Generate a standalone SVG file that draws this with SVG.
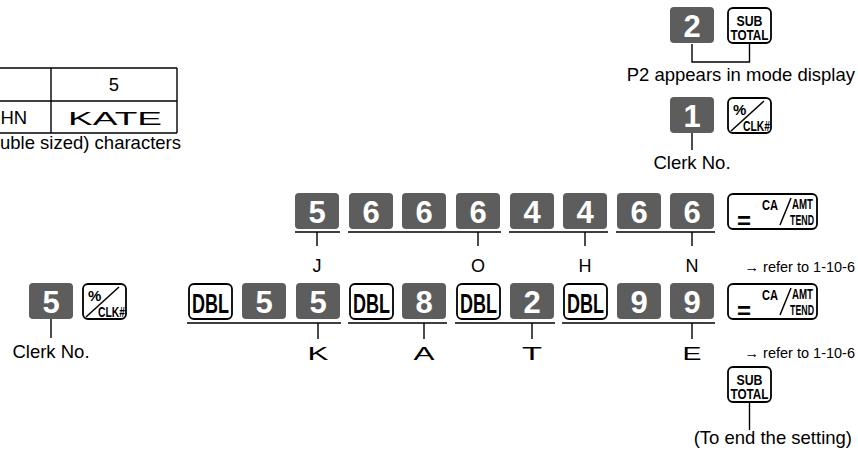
<svg xmlns="http://www.w3.org/2000/svg" xmlns:xlink="http://www.w3.org/1999/xlink" width="858" height="457" viewBox="0 0 858 457">
<style>
.dk{fill:#5d5d5d}
.wk{fill:#fff;stroke:#000;stroke-width:1.8}
.dg{font-family:"Liberation Sans",Arial,sans-serif;font-weight:bold;font-size:31px;fill:#fff;text-anchor:middle}
.kt{font-family:"Liberation Sans",Arial,sans-serif;font-weight:bold;fill:#000}
.lb{font-family:"Liberation Sans",Arial,sans-serif;font-size:18.5px;fill:#000}
.sm{font-family:"Liberation Sans",Arial,sans-serif;font-size:14.5px;fill:#000;text-anchor:end}
.ch{font-family:"Liberation Sans",Arial,sans-serif;font-size:18px;fill:#000;text-anchor:middle}
.wd{font-family:"Liberation Sans",Arial,sans-serif;font-size:19px;fill:#000;text-anchor:middle}
.ln{stroke:#000;stroke-width:1.4;fill:none}
.sl{stroke:#000;stroke-width:1.5;fill:none}
</style>
<defs>
<rect id="dkey" class="dk" width="44" height="36" rx="4"/>
<rect id="wkey" class="wk" width="43" height="35" rx="5"/>
<rect id="cakey" class="wk" width="89" height="35" rx="5"/>
<g id="dblkey"><use xlink:href="#wkey"/><text class="kt" x="21.5" y="28.5" font-size="27" text-anchor="middle" textLength="37" lengthAdjust="spacingAndGlyphs">DBL</text></g>
<g id="clkkey"><use xlink:href="#wkey"/><text class="kt" x="5" y="17" font-size="15">%</text><line class="sl" x1="3" y1="33" x2="36" y2="3"/><text class="kt" x="15" y="32.5" font-size="15.5" textLength="27" lengthAdjust="spacingAndGlyphs">CLK#</text></g>
<g id="subkey"><use xlink:href="#wkey"/><text class="kt" x="21.5" y="17.5" font-size="15.5" text-anchor="middle" textLength="26" lengthAdjust="spacingAndGlyphs">SUB</text><text class="kt" x="21.5" y="31.5" font-size="15.5" text-anchor="middle" textLength="38" lengthAdjust="spacingAndGlyphs">TOTAL</text></g>
<g id="cagroup"><use xlink:href="#cakey"/><text class="kt" x="9" y="35" font-size="24">=</text><text class="kt" x="34" y="16" font-size="14.5" textLength="16" lengthAdjust="spacingAndGlyphs">CA</text><line class="sl" x1="52" y1="31" x2="63" y2="4"/><text class="kt" x="64" y="15" font-size="14.5" textLength="21" lengthAdjust="spacingAndGlyphs">AMT</text><text class="kt" x="62" y="31" font-size="14.5" textLength="24" lengthAdjust="spacingAndGlyphs">TEND</text></g>
</defs>

<g id="table">
<line class="ln" x1="0" y1="68" x2="177" y2="68"/>
<line class="ln" x1="0" y1="101" x2="177" y2="101"/>
<line class="ln" x1="0" y1="133" x2="177" y2="133"/>
<line class="ln" x1="51" y1="68" x2="51" y2="133"/>
<line class="ln" x1="177" y1="68" x2="177" y2="133"/>
<text class="lb" x="114" y="91" font-size="18" text-anchor="middle">5</text>
<text class="lb" x="0.5" y="124" font-size="15.5">HN</text>
<text class="wd" x="115" y="125" textLength="94" lengthAdjust="spacingAndGlyphs">KATE</text>
<text class="lb" x="0" y="149" font-size="18">uble sized) characters</text>
</g>

<g id="connectors">
<path class="ln" d="M692 44V62H749.5V43"/>
<path class="ln" d="M692 133V150"/>
<path class="ln" d="M295 232H340M348 232H501M509 232H608M616 232H715"/>
<path class="ln" d="M317 232V246M478 232V246M585 232V246M692 232V246"/>
<path class="ln" d="M51 319V338"/>
<path class="ln" d="M187 323H341M348 323H447M455 323H555M562 323H715"/>
<path class="ln" d="M318 323V339M424 323V339M532 323V339M692 323V339"/>
<path class="ln" d="M749.5 402V430"/>
</g>

<g id="key-2-top"><use xlink:href="#dkey" x="670" y="7"/><text class="dg" x="692" y="37">2</text></g>
<g id="key-subtotal-top"><use xlink:href="#subkey" x="728" y="8"/></g>
<g id="label-p2"><text class="lb" x="855" y="81" text-anchor="end">P2 appears in mode display</text></g>
<g id="key-1-top"><use xlink:href="#dkey" x="670" y="97"/><text class="dg" x="692" y="127">1</text></g>
<g id="key-clk-top"><use xlink:href="#clkkey" x="728" y="98"/></g>
<g id="label-clerk-top"><text class="lb" x="692" y="169" text-anchor="middle">Clerk No.</text></g>

<g id="row1">
<g id="r1k1"><use xlink:href="#dkey" x="295" y="193"/><text class="dg" x="317" y="223">5</text></g>
<g id="r1k2"><use xlink:href="#dkey" x="349" y="193"/><text class="dg" x="371" y="223">6</text></g>
<g id="r1k3"><use xlink:href="#dkey" x="402" y="193"/><text class="dg" x="424" y="223">6</text></g>
<g id="r1k4"><use xlink:href="#dkey" x="456" y="193"/><text class="dg" x="478" y="223">6</text></g>
<g id="r1k5"><use xlink:href="#dkey" x="510" y="193"/><text class="dg" x="532" y="223">4</text></g>
<g id="r1k6"><use xlink:href="#dkey" x="563" y="193"/><text class="dg" x="585" y="223">4</text></g>
<g id="r1k7"><use xlink:href="#dkey" x="617" y="193"/><text class="dg" x="639" y="223">6</text></g>
<g id="r1k8"><use xlink:href="#dkey" x="670" y="193"/><text class="dg" x="692" y="223">6</text></g>
<g id="r1ca"><use xlink:href="#cagroup" x="728" y="194"/></g>
<g id="r1labels">
<text class="ch" x="317" y="272">J</text>
<text class="ch" x="478" y="272">O</text>
<text class="ch" x="585" y="272">H</text>
<text class="ch" x="692" y="272">N</text>
<text class="sm" x="855" y="272">→ refer to 1-10-6</text>
</g>
</g>

<g id="row2-left">
<g id="key-5-left"><use xlink:href="#dkey" x="29" y="283"/><text class="dg" x="51" y="313">5</text></g>
<g id="key-clk-left"><use xlink:href="#clkkey" x="83" y="284"/></g>
<text class="lb" x="51" y="358" text-anchor="middle">Clerk No.</text>
</g>

<g id="row2">
<g id="r2k1"><use xlink:href="#dblkey" x="189" y="284"/></g>
<g id="r2k2"><use xlink:href="#dkey" x="242" y="283"/><text class="dg" x="264" y="313">5</text></g>
<g id="r2k3"><use xlink:href="#dkey" x="296" y="283"/><text class="dg" x="318" y="313">5</text></g>
<g id="r2k4"><use xlink:href="#dblkey" x="350" y="284"/></g>
<g id="r2k5"><use xlink:href="#dkey" x="402" y="283"/><text class="dg" x="424" y="313">8</text></g>
<g id="r2k6"><use xlink:href="#dblkey" x="457" y="284"/></g>
<g id="r2k7"><use xlink:href="#dkey" x="510" y="283"/><text class="dg" x="532" y="313">2</text></g>
<g id="r2k8"><use xlink:href="#dblkey" x="564" y="284"/></g>
<g id="r2k9"><use xlink:href="#dkey" x="617" y="283"/><text class="dg" x="639" y="313">9</text></g>
<g id="r2k10"><use xlink:href="#dkey" x="670" y="283"/><text class="dg" x="692" y="313">9</text></g>
<g id="r2ca"><use xlink:href="#cagroup" x="728" y="284"/></g>
<g id="r2labels">
<text class="wd" x="318" y="360" textLength="21" lengthAdjust="spacingAndGlyphs">K</text>
<text class="wd" x="424" y="360" textLength="21" lengthAdjust="spacingAndGlyphs">A</text>
<text class="wd" x="532" y="360" textLength="20" lengthAdjust="spacingAndGlyphs">T</text>
<text class="wd" x="692" y="360" textLength="19" lengthAdjust="spacingAndGlyphs">E</text>
<text class="sm" x="855" y="358">→ refer to 1-10-6</text>
</g>
</g>

<g id="key-subtotal-bottom"><use xlink:href="#subkey" x="728" y="367"/></g>
<g id="label-end"><text class="lb" x="852" y="444" text-anchor="end">(To end the setting)</text></g>
</svg>
